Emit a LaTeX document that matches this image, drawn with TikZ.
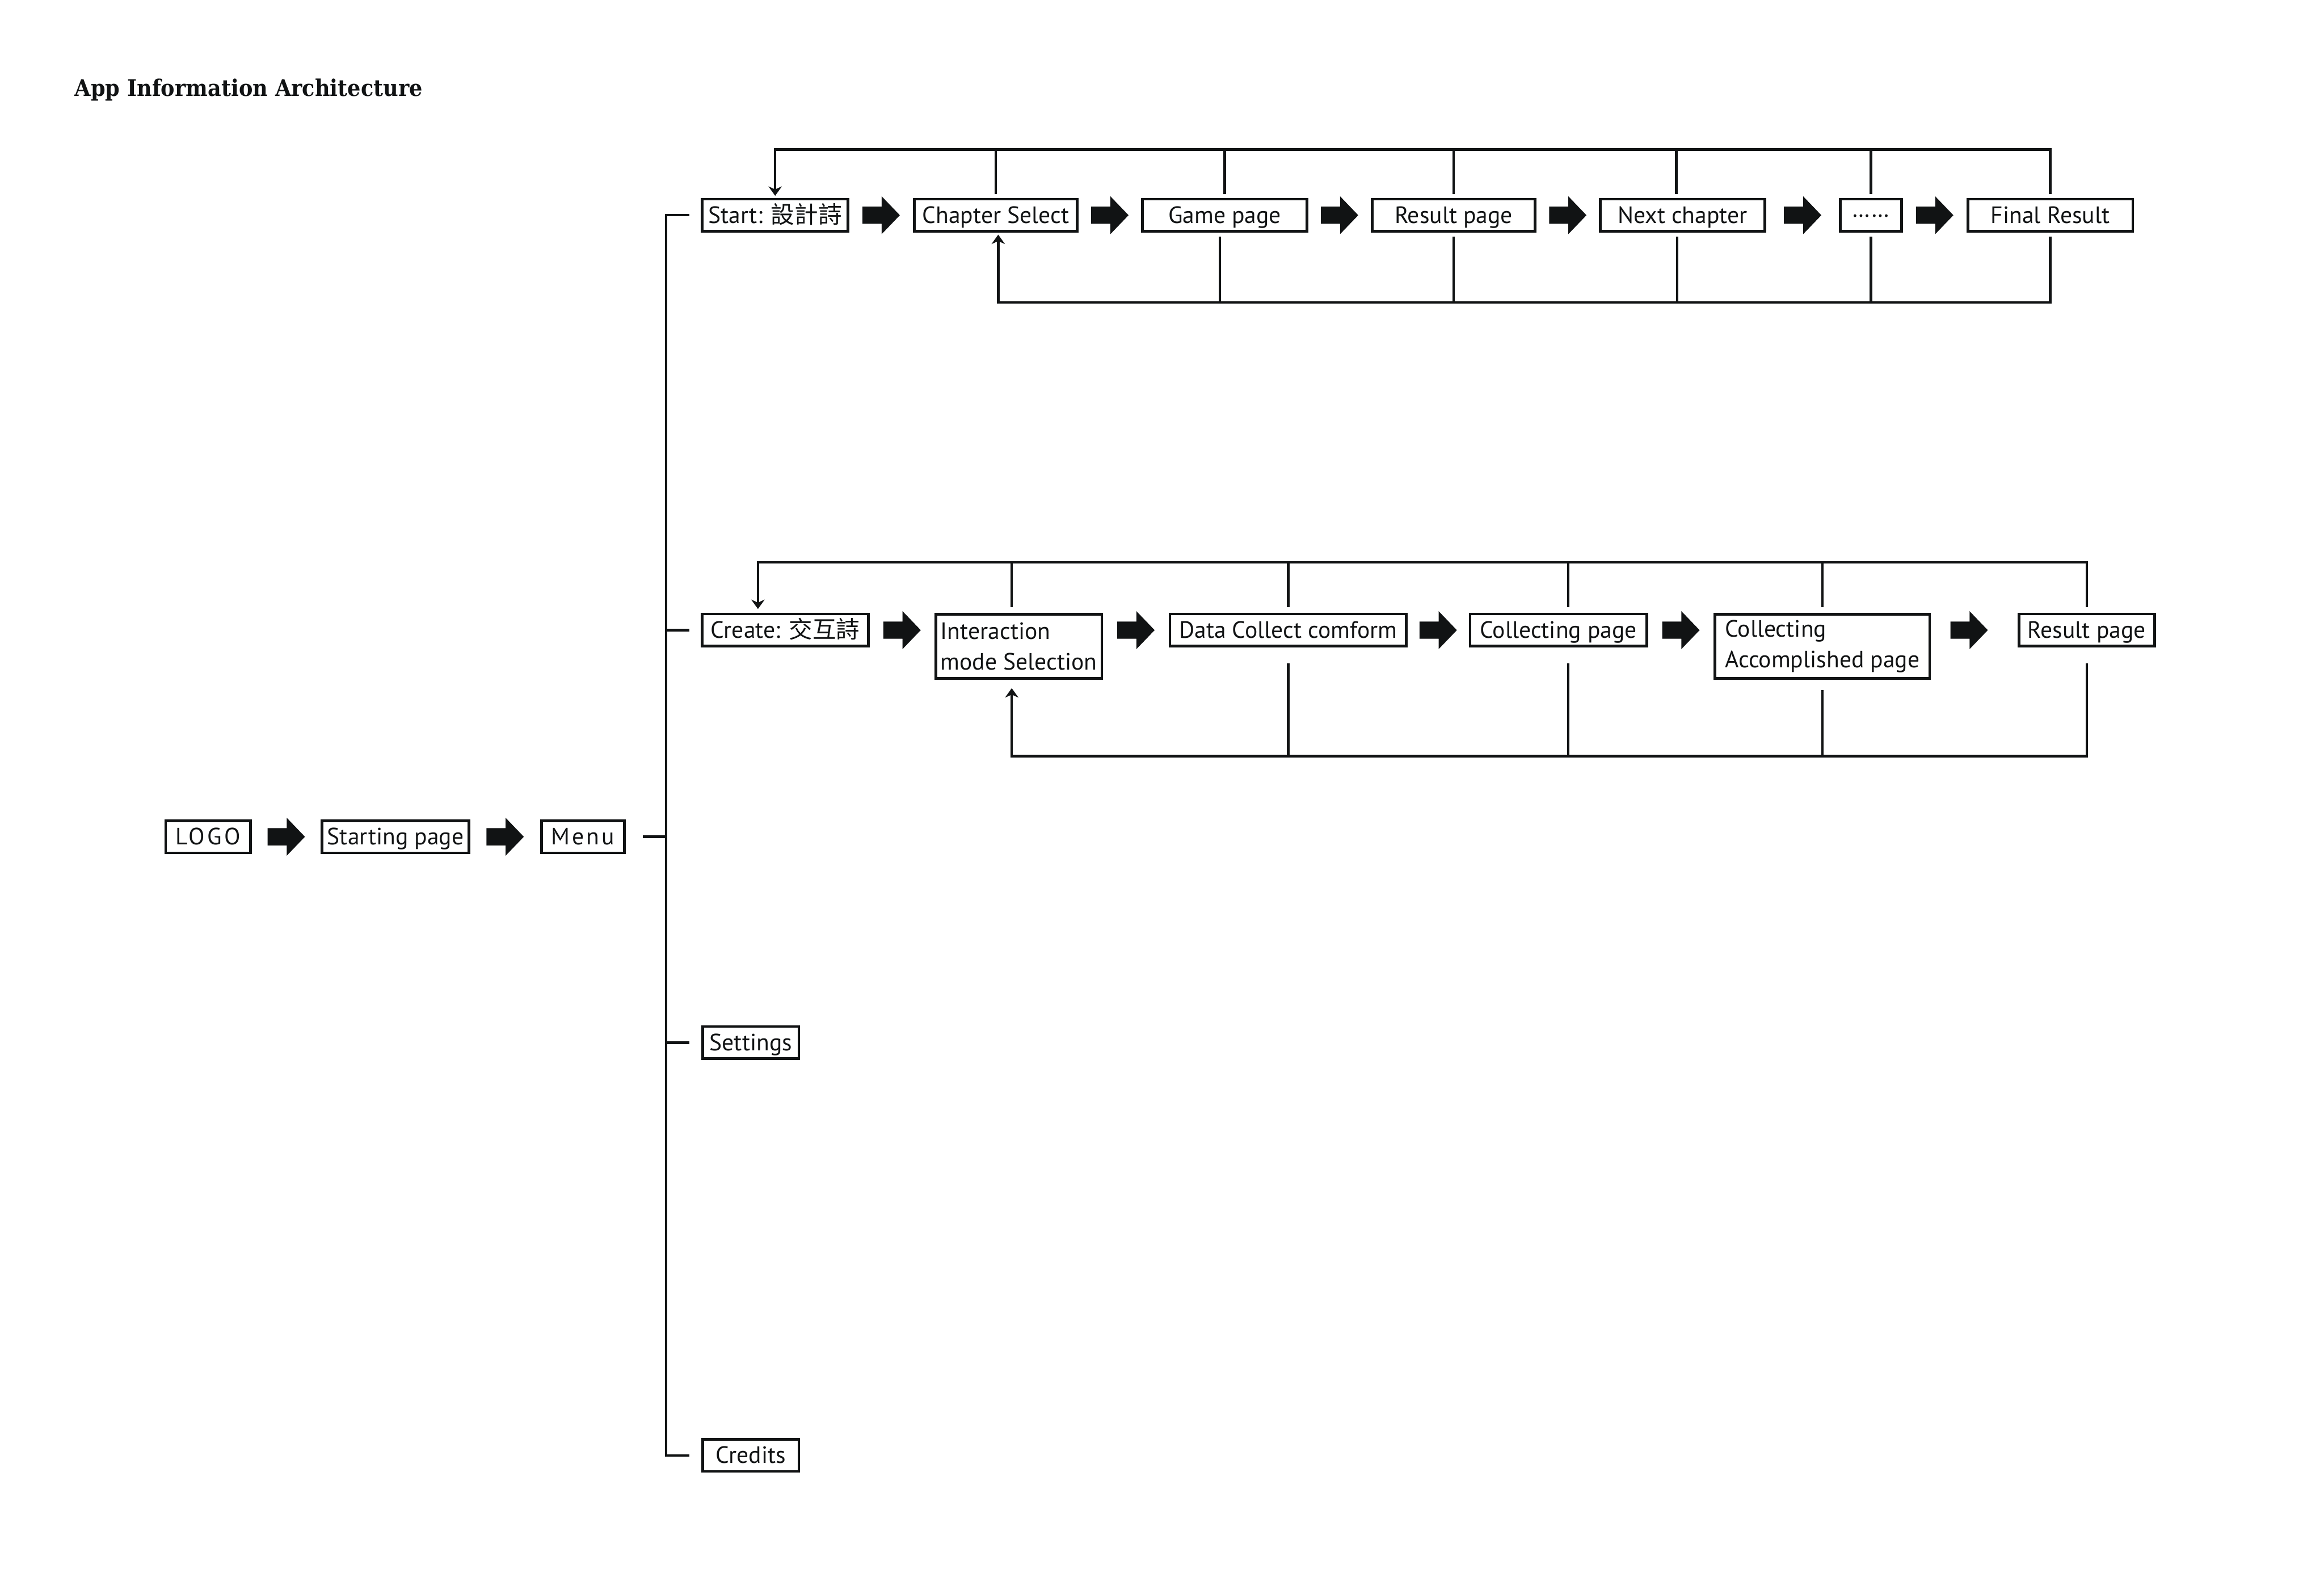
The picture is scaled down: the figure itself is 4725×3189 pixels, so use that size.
\documentclass[tikz,border=0pt]{standalone}
\usepackage{fontspec}
\setmainfont{PT Sans}
\newfontfamily\cjk{Noto Sans CJK TC}[Scale=1.0]
\newfontfamily\titlefont{DejaVu Serif}[UprightFont=* Bold, FakeStretch=0.91]
\usetikzlibrary{arrows.meta,calc}
\definecolor{ink}{HTML}{111314}
\newcommand\boxfs{\fontsize{9.6pt}{12.4pt}\selectfont}
\begin{document}
\begin{tikzpicture}[x=0.2pt,y=-0.2pt,line join=miter,
  conn/.style={draw=ink,line width=1pt},
  smallhead/.style={-{Stealth[length=3.8pt,width=5.4pt,inset=1.2pt]}},
  boxbase/.style={draw=ink,line width=1.1pt,inner sep=0pt,text=ink,font=\boxfs},
  oneline/.style={boxbase,minimum height=13.1pt,text height=6.6pt,text depth=0pt},
  twoline/.style={boxbase,minimum height=26.1pt,align=left},
  fatarrow/.pic={\fill[ink] (-38,-17.5) -- (1,-17.5) -- (1,-38.5) -- (38,0) -- (1,38.5) -- (1,17.5) -- (-38,17.5) -- cycle;}
]
\useasboundingbox (0,0) rectangle (4725,3189);

% title
\node[anchor=base west,inner sep=0pt,text=ink,font=\titlefont\fontsize{9.3pt}{11pt}\selectfont] (title) at (151,196) {App Information Architecture};

% left chain
\node[oneline,minimum width=34.5pt] (logo) at (423,1701) {\addfontfeature{LetterSpace=10}LOGO};
\node[oneline,minimum width=59.7pt] (startpg) at (804,1701) {Starting page};
\node[oneline,minimum width=33.7pt] (menu) at (1185,1701) {\addfontfeature{LetterSpace=10}Menu};
\pic at ($(logo.east)!0.5!(startpg.west)$) {fatarrow};
\pic at ($(startpg.east)!0.5!(menu.west)$) {fatarrow};

% row 1
\node[oneline,minimum width=59.3pt] (s1) at (1576,437.5) {Start: {\cjk 設計詩}};
\node[oneline,minimum width=66.3pt] (s2) at (2024.5,437.5) {Chapter Select};
\node[oneline,minimum width=66.9pt] (s3) at (2490,437.5) {Game page};
\node[oneline,minimum width=66.3pt] (s4) at (2955.5,437.5) {Result page};
\node[oneline,minimum width=66.9pt] (s5) at (3421,437.5) {Next chapter};
\node[oneline,minimum width=24.9pt] (s6) at (3804,437.5) {\raisebox{2.6pt}{\fontsize{9.6pt}{10pt}\selectfont ……}};
\node[oneline,minimum width=67.1pt] (s7) at (4168.5,437.5) {Final Result};
\pic at ($(s1.east)!0.5!(s2.west)$) {fatarrow};
\pic at ($(s2.east)!0.5!(s3.west)$) {fatarrow};
\pic at ($(s3.east)!0.5!(s4.west)$) {fatarrow};
\pic at ($(s4.east)!0.5!(s5.west)$) {fatarrow};
\pic at ($(s5.east)!0.5!(s6.west)$) {fatarrow};
\pic at ($(s6.east)!0.5!(s7.west)$) {fatarrow};

% row 2
\node[oneline,minimum width=67.5pt] (c1) at (1596.5,1281) {Create: {\cjk 交互詩}};
\node[twoline,minimum width=67.5pt] (c2) at (2071.5,1314) {Interaction\\mode Selection};
\node[oneline,minimum width=96.1pt] (c3) at (2619,1281) {Data Collect comform};
\node[oneline,minimum width=71.9pt] (c4) at (3168.5,1281) {Collecting page};
\node[twoline,minimum width=87.3pt] (c5) at (3705,1314) {Collecting\\Accomplished page};
\node[oneline,minimum width=55.1pt] (c6) at (4242.5,1281) {Result page};
\pic at ($(c1.east)!0.5!(c2.west |- c1.east)$) {fatarrow};
\pic at ($(c2.east |- c3.west)!0.5!(c3.west)$) {fatarrow};
\pic at ($(c3.east)!0.5!(c4.west)$) {fatarrow};
\pic at ($(c4.east)!0.5!(c5.west |- c4.east)$) {fatarrow};
\pic at ($(c5.east |- c6.west)!0.44!(c6.west)$) {fatarrow};

% other menu entries
\node[oneline,minimum width=39.1pt] (settings) at (1526.5,2119.5) {Settings};
\node[oneline,minimum width=39.1pt] (credits) at (1526.5,2958.5) {Credits};

% menu tree
\coordinate (trunk) at (1354,0);
\draw[conn] ($(menu.east)+(35,0)$) -- (trunk |- menu.east);
\draw[conn] ($(s1.west)+(-24,0)$) -| (trunk |- credits.west) -- ($(credits.west)+(-24,0)$);
\draw[conn] (trunk |- c1.west) -- ($(c1.west)+(-24,0)$);
\draw[conn] (trunk |- settings.west) -- ($(settings.west)+(-24,0)$);

% row 1 loops
\coordinate (T1) at (0,304);
\coordinate (B1) at (0,615);
\coordinate (s2o) at ($(s2.south)+(5,0)$);
\coordinate (s3o) at ($(s3.south)+(-10,0)$);
\coordinate (s5u) at ($(s5.north)+(-13,0)$);
\coordinate (s5d) at ($(s5.south)+(-11,0)$);
\draw[conn,smallhead] (s7.north |- 0,394) |- (s1.north |- T1) -- (s1.north |- 0,398);
\foreach \p in {s2.north,s3.north,s4.north,s5u,s6.north} \draw[conn] (\p |- 0,394) -- (\p |- T1);
\draw[conn,smallhead] (s7.south |- 0,481) |- (s2o |- B1) -- (s2o |- 0,477);
\foreach \p in {s3o,s4.south,s5d,s6.south} \draw[conn] (\p |- 0,481) -- (\p |- B1);

% row 2 loops
\coordinate (T2) at (0,1143);
\coordinate (B2) at (0,1537);
\coordinate (c1t) at ($(c1.north)+(-55.5,0)$);
\coordinate (c2o) at ($(c2.north)+(-14.5,0)$);
\coordinate (c4o) at ($(c4.north)+(20,0)$);
\draw[conn,smallhead] (c6.north |- 0,1234) |- (c1t |- T2) -- (c1t |- 0,1238);
\foreach \p in {c2o,c3.north,c4o,c5.north} \draw[conn] (\p |- 0,1234) -- (\p |- T2);
\draw[conn,smallhead] (c6.south |- 0,1349) |- (c2o |- B2) -- (c2o |- 0,1399);
\draw[conn] (c3.south |- 0,1349) -- (c3.south |- B2);
\draw[conn] (c4o |- 0,1349) -- (c4o |- B2);
\draw[conn] (c5.south |- 0,1403) -- (c5.south |- B2);
\end{tikzpicture}
\end{document}
